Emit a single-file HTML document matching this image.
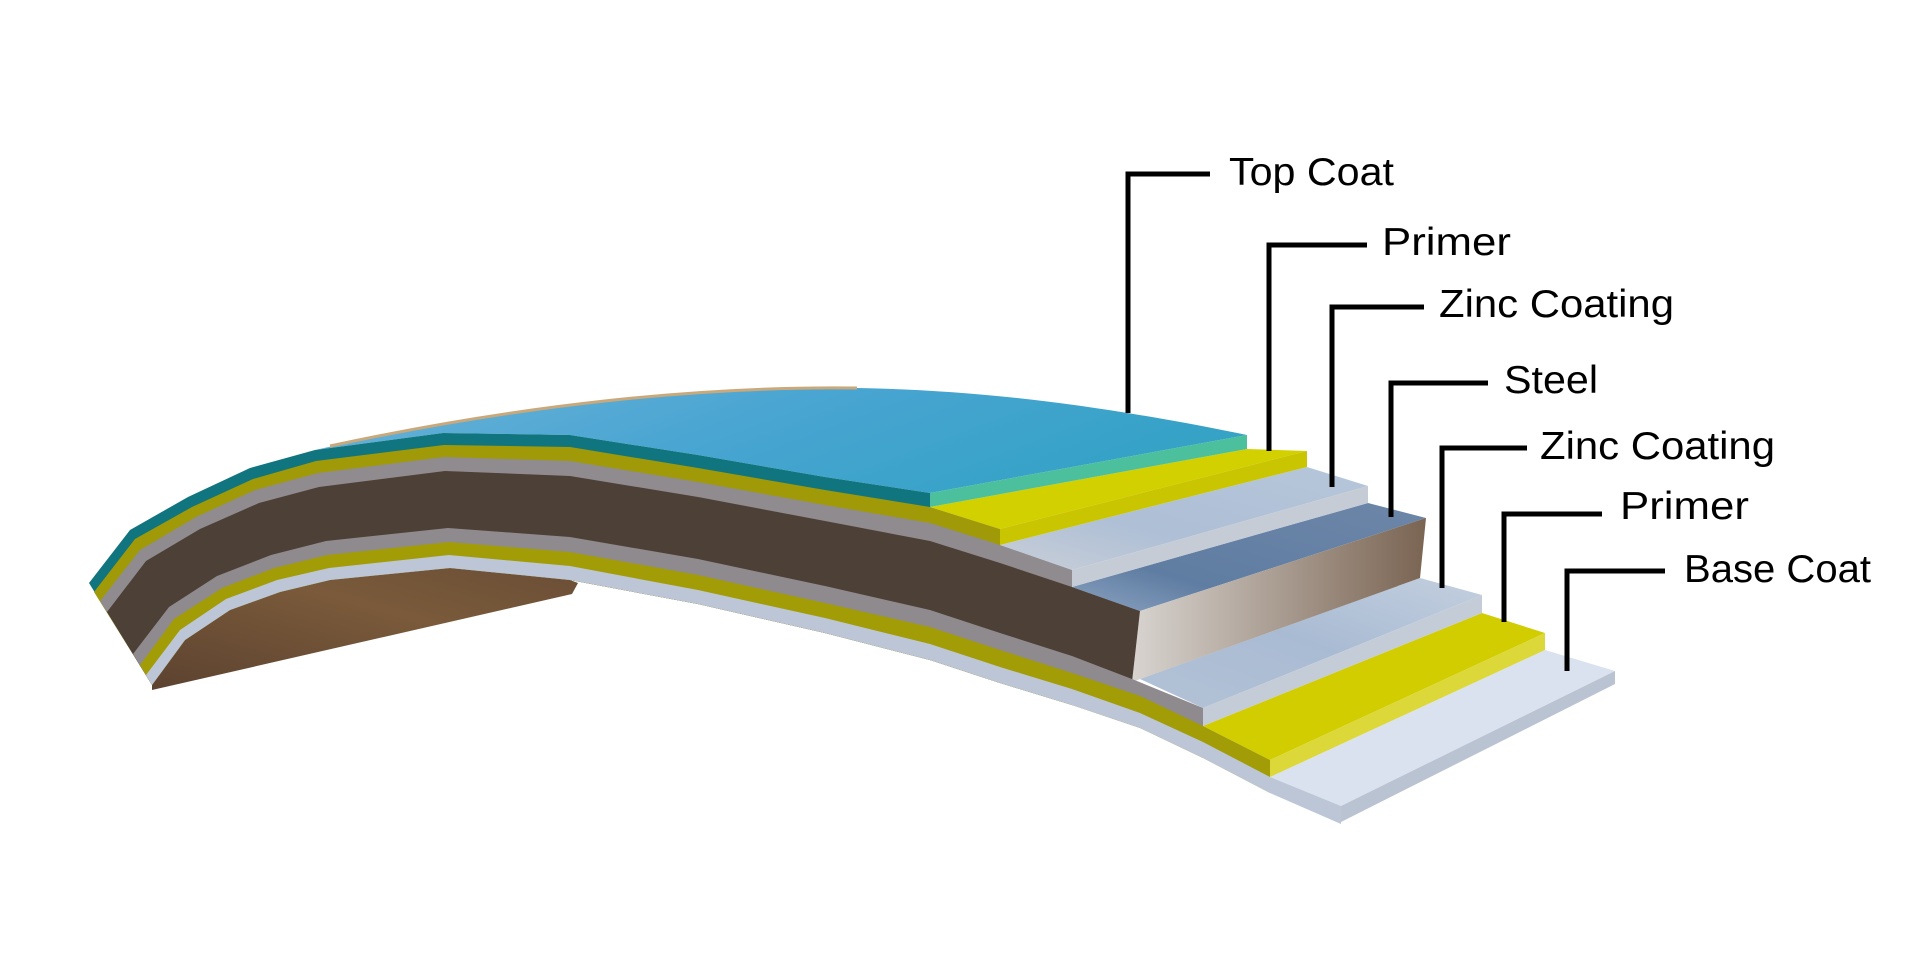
<!DOCTYPE html>
<html><head><meta charset="utf-8"><style>
html,body{margin:0;padding:0;background:#fff;}
svg{display:block;}
text{font-family:"Liberation Sans",sans-serif;font-size:39px;fill:#000;}
</style></head><body>
<svg width="1920" height="975" viewBox="0 0 1920 975" xmlns="http://www.w3.org/2000/svg">
<defs>
<linearGradient id="topg" x1="0" y1="0" x2="1" y2="0.3">
<stop offset="0" stop-color="#6bb3d8"/><stop offset="0.5" stop-color="#4aa5d2"/><stop offset="1" stop-color="#35a2c6"/></linearGradient>
<linearGradient id="undg" x1="0" y1="1" x2="1" y2="0">
<stop offset="0" stop-color="#5c4230"/><stop offset="0.6" stop-color="#7a5a3a"/><stop offset="1" stop-color="#6a4e36"/></linearGradient>
<linearGradient id="steelg" x1="0" y1="1" x2="1" y2="0">
<stop offset="0" stop-color="#8aa2c0"/><stop offset="0.3" stop-color="#5f7da2"/><stop offset="1" stop-color="#6d86a8"/></linearGradient>
<linearGradient id="zincg" x1="0" y1="1" x2="1" y2="0">
<stop offset="0" stop-color="#c9cfd8"/><stop offset="0.4" stop-color="#aebfd6"/><stop offset="1" stop-color="#b6c6da"/></linearGradient>
<linearGradient id="zinc2g" x1="0" y1="1" x2="1" y2="0">
<stop offset="0" stop-color="#b3c2d6"/><stop offset="0.5" stop-color="#a9bbd3"/><stop offset="1" stop-color="#c3cfdf"/></linearGradient>
<linearGradient id="steelend" x1="0" y1="0" x2="1" y2="0">
<stop offset="0" stop-color="#d8d4d0"/><stop offset="1" stop-color="#7a6452"/></linearGradient>
</defs>

<!-- underside -->
<polygon fill="url(#undg)" points="152,685 185,640 230,610 280,592 330,580 450,568 570,580 578,583 572,594 152,690"/>

<!-- base step -->
<polygon fill="#d9e2ee" points="1270,777 1341,806 1615,671 1545,650"/>
<polygon fill="#b9c3d1" points="1341,806 1615,671 1615,684 1341,822"/>
<!-- yellow2 step -->
<polygon fill="#d2cd00" points="1203,726 1270,760 1545,633 1482,613"/>
<polygon fill="#dcd83a" points="1270,760 1545,633 1545,650 1270,777"/>
<!-- gray2 step -->
<polygon fill="url(#zinc2g)" points="1140,679 1203,708 1482,595 1420,578"/>
<polygon fill="#c4ccd8" points="1203,708 1482,595 1482,613 1203,726"/>
<!-- steel step -->
<polygon fill="url(#steelg)" points="1072,587 1140,611 1426,518 1368,503"/>
<polygon fill="url(#steelend)" points="1140,611 1426,518 1420,578 1132,682"/>
<!-- gray1 step -->
<polygon fill="url(#zincg)" points="1000,545 1072,570 1368,486 1307,467"/>
<polygon fill="#c6ccd6" points="1072,570 1368,486 1368,503 1072,587"/>
<!-- yellow1 step -->
<polygon fill="#d3d000" points="930,507 1000,529 1307,451 1247,449"/>
<polygon fill="#c9c500" points="1000,529 1307,451 1307,467 1000,545"/>
<!-- top coat surface -->
<path fill="url(#topg)" d="M315,450 L443,433 570,435 698,455 825,477 930,493 L1247,435 C1100,405 980,390 857,388 C700,386 520,405 315,450 Z"/>
<path fill="none" stroke="#c9a97c" stroke-width="3" d="M330,446 C520,405 700,386 857,388"/>
<polygon fill="#4cc09c" points="930,493 1247,435 1247,449 930,507"/>

<!-- front bands -->
<g stroke-linejoin="round">
<polygon fill="#10757e" points="89,583 130,530 188,497 250,468 315,450 443,433 570,435 698,455 825,477 930,493 930,660 825,633 698,604 570,580 450,568 330,580 280,592 230,610 185,640 152,685"/>
<polygon fill="#a09a08" points="94,592 135,539 192,507 253,479 316,461 444,445 570,447 698,468 825,490 930,507 1000,529 1000,683 930,660 825,633 698,604 570,580 450,568 330,580 280,592 230,610 185,640 152,685"/>
<polygon fill="#8f8b8f" points="100,601 140,550 196,517 255,490 318,473 444,457 570,461 698,482 825,505 930,523 1000,545 1072,570 1072,705 1000,683 930,660 825,633 698,604 570,580 450,568 330,580 280,592 230,610 185,640 152,685"/>
<polygon fill="#4d4036" points="107,612 146,561 200,529 259,503 319,487 445,471 570,476 698,497 825,521 930,541 1000,563 1072,587 1140,611 1132,682 1100,712 1072,705 1000,683 930,660 825,633 698,604 570,580 450,568 330,580 280,592 230,610 185,640 152,685"/>
<polygon fill="#8e8a8e" points="133,654 169,607 217,576 271,555 326,541 448,528 570,537 698,559 825,586 930,610 1000,633 1072,656 1132,679 1203,708 1203,758 1140,728 1072,705 1000,683 930,660 825,633 698,604 570,580 450,568 330,580 280,592 230,610 185,640 152,685"/>
<polygon fill="#a29c06" points="140,665 174,619 222,588 274,568 327,555 449,542 570,552 698,575 825,603 930,627 1000,650 1072,673 1140,696 1203,726 1270,760 1270,793 1203,758 1140,728 1072,705 1000,683 930,660 825,633 698,604 570,580 450,568 330,580 280,592 230,610 185,640 152,685"/>
<polygon fill="#bcc6d6" points="146,675 180,630 226,599 277,580 329,568 449,555 570,566 698,590 825,618 930,644 1000,667 1072,689 1140,713 1203,742 1270,777 1341,806 1341,824 1270,793 1203,758 1140,728 1072,705 1000,683 930,660 825,633 698,604 570,580 450,568 330,580 280,592 230,610 185,640 152,685"/>
</g>

<!-- connectors -->
<g fill="none" stroke="#000" stroke-width="5">
<polyline points="1210,174 1128,174 1128,413"/>
<polyline points="1367,245 1269,245 1269,451"/>
<polyline points="1424,307 1332,307 1332,487"/>
<polyline points="1488,383 1391,383 1391,517"/>
<polyline points="1527,448 1442,448 1442,588"/>
<polyline points="1602,514 1504,514 1504,622"/>
<polyline points="1665,571 1567,571 1567,671"/>
</g>
<text x="1229" y="185" textLength="165" lengthAdjust="spacingAndGlyphs">Top Coat</text>
<text x="1382" y="255" textLength="129" lengthAdjust="spacingAndGlyphs">Primer</text>
<text x="1439" y="317" textLength="235" lengthAdjust="spacingAndGlyphs">Zinc Coating</text>
<text x="1504" y="393" textLength="94" lengthAdjust="spacingAndGlyphs">Steel</text>
<text x="1540" y="459" textLength="235" lengthAdjust="spacingAndGlyphs">Zinc Coating</text>
<text x="1620" y="519" textLength="129" lengthAdjust="spacingAndGlyphs">Primer</text>
<text x="1684" y="582" textLength="187" lengthAdjust="spacingAndGlyphs">Base Coat</text>
</svg>
</body></html>
